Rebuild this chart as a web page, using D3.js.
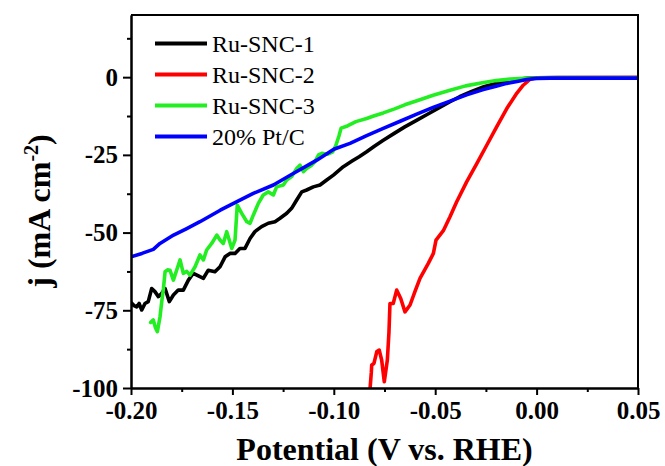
<!DOCTYPE html>
<html>
<head>
<meta charset="utf-8">
<script src="https://cdn.jsdelivr.net/npm/d3@7/dist/d3.min.js"></script>
<style>
  html, body { margin: 0; padding: 0; background: #fff; }
  svg { display: block; }
</style>
</head>
<body>
<svg id="chart" width="665" height="466"></svg>
<script>
// ---- data (potential V vs RHE, current density mA cm^-2) ----
const seriesNames = ["Ru-SNC-1", "Ru-SNC-2", "Ru-SNC-3", "20% Pt/C"];
const seriesColors = ["#000000", "#ff0000", "#22ee22", "#0000ff"];

const ruSNC1 = [[-0.2000,-72.5],[-0.1985,-73.5],[-0.1972,-73.9],[-0.1960,-72.8],[-0.1947,-74.9],[-0.1931,-72.8],[-0.1915,-72.2],[-0.1898,-68.0],[-0.1882,-69.0],[-0.1865,-70.6],[-0.1849,-69.6],[-0.1832,-68.0],[-0.1811,-72.2],[-0.1791,-70.1],[-0.1767,-68.5],[-0.1742,-68.5],[-0.1717,-65.3],[-0.1693,-63.1],[-0.1660,-64.2],[-0.1643,-64.7],[-0.1619,-62.1],[-0.1586,-62.6],[-0.1561,-61.0],[-0.1536,-57.8],[-0.1512,-56.7],[-0.1487,-56.7],[-0.1463,-55.1],[-0.1438,-55.1],[-0.1413,-51.9],[-0.1389,-49.7],[-0.1356,-48.1],[-0.1323,-47.0],[-0.1290,-46.5],[-0.1265,-45.4],[-0.1232,-43.8],[-0.1208,-42.2],[-0.1183,-39.5],[-0.1158,-36.9],[-0.1134,-36.3],[-0.1101,-35.3],[-0.1068,-34.7],[-0.1035,-33.1],[-0.1002,-31.5],[-0.0953,-28.8],[-0.0910,-27.0],[-0.0875,-25.6],[-0.0838,-24.0],[-0.0800,-22.2],[-0.0756,-20.3],[-0.0700,-18.0],[-0.0650,-16.0],[-0.0590,-13.8],[-0.0540,-12.0],[-0.0480,-9.8],[-0.0427,-7.9],[-0.0380,-6.3],[-0.0320,-4.6],[-0.0260,-3.1],[-0.0200,-2.0],[-0.0147,-1.3],[-0.0100,-0.8],[-0.0050,-0.4],[0.0000,-0.2],[0.0100,-0.1],[0.0500,-0.1]];

const ruSNC2 = [[-0.0821,-100],[-0.0815,-95],[-0.0813,-92.6],[-0.0802,-92.1],[-0.0788,-88.3],[-0.0776,-87.8],[-0.0764,-91],[-0.0751,-98],[-0.0736,-91],[-0.0728,-82],[-0.0723,-72.8],[-0.0707,-72.8],[-0.0690,-68.5],[-0.0670,-71.2],[-0.0649,-75.5],[-0.0624,-73.3],[-0.0600,-69],[-0.0575,-64.7],[-0.0534,-59.9],[-0.0509,-56.7],[-0.0496,-52.4],[-0.0460,-49.4],[-0.0427,-44.9],[-0.0394,-40.1],[-0.0345,-33.7],[-0.0295,-27.8],[-0.0246,-21.9],[-0.0197,-16],[-0.0147,-10.1],[-0.0098,-5.2],[-0.0066,-2.6],[-0.0033,-0.7],[0.0000,-0.2],[0.0500,-0.1]];

const ruSNC3 = [[-0.1903,-78.9],[-0.1890,-78.1],[-0.1880,-80.5],[-0.1870,-81.9],[-0.1857,-77.1],[-0.1848,-72.0],[-0.1840,-68.0],[-0.1832,-62.6],[-0.1820,-62.0],[-0.1808,-62.1],[-0.1791,-65.3],[-0.1775,-62.1],[-0.1758,-58.8],[-0.1742,-63.1],[-0.1725,-62.5],[-0.1709,-63.7],[-0.1684,-61.0],[-0.1660,-57.2],[-0.1643,-58.8],[-0.1627,-55.6],[-0.1602,-53.5],[-0.1577,-50.8],[-0.1561,-52.4],[-0.1545,-53.5],[-0.1528,-49.7],[-0.1503,-55.1],[-0.1487,-52.4],[-0.1476,-41.2],[-0.1454,-43.8],[-0.1429,-46.5],[-0.1413,-47.0],[-0.1397,-44.4],[-0.1372,-40.6],[-0.1348,-37.9],[-0.1323,-36.9],[-0.1298,-37.9],[-0.1282,-35.3],[-0.1249,-34.7],[-0.1232,-33.1],[-0.1208,-32.0],[-0.1183,-29.4],[-0.1167,-28.3],[-0.1150,-30.4],[-0.1134,-29.4],[-0.1109,-28.3],[-0.1093,-27.2],[-0.1075,-25.0],[-0.1059,-24.5],[-0.1030,-24.8],[-0.1005,-24.0],[-0.0990,-22.0],[-0.0975,-19.0],[-0.0964,-16.4],[-0.0933,-15.7],[-0.0891,-14.3],[-0.0838,-13.3],[-0.0800,-12.4],[-0.0756,-11.5],[-0.0700,-10.2],[-0.0650,-8.9],[-0.0590,-7.6],[-0.0510,-5.8],[-0.0427,-4.2],[-0.0350,-2.8],[-0.0260,-1.7],[-0.0200,-1.1],[-0.0130,-0.64],[-0.0060,-0.35],[0.0000,-0.25],[0.0500,-0.3]];

const ptC = [[-0.2000,-57.8],[-0.1946,-56.7],[-0.1890,-55.4],[-0.1857,-53.5],[-0.1790,-50.8],[-0.1725,-48.7],[-0.1660,-46.5],[-0.1560,-42.8],[-0.1480,-40.1],[-0.1397,-37.4],[-0.1298,-34.7],[-0.1200,-31.0],[-0.1084,-26.7],[-0.1000,-23.2],[-0.0920,-21.3],[-0.0838,-18.8],[-0.0756,-16.5],[-0.0670,-14.1],[-0.0591,-11.9],[-0.0510,-9.7],[-0.0427,-7.7],[-0.0345,-5.7],[-0.0263,-4.0],[-0.0200,-2.9],[-0.0147,-2.0],[-0.0090,-1.3],[-0.0049,-0.75],[0.0000,-0.4],[0.0066,-0.3],[0.0200,-0.3],[0.0500,-0.3]];

const seriesData = [ruSNC1, ruSNC2, ruSNC3, ptC];

const xMajorTicks = [-0.20, -0.15, -0.10, -0.05, 0.00, 0.05];
const xMinorTicks = [-0.175, -0.125, -0.075, -0.025, 0.025];
const yMajorTicks = [-100, -75, -50, -25, 0];
const yMinorTicks = [-87.5, -62.5, -37.5, -12.5, 12.5];

// ---- layout ----
const W = 665, H = 466;
const margin = {left: 131, right: 27, top: 15, bottom: 78};
const svg = d3.select("#chart");
const x = d3.scaleLinear().domain([-0.2, 0.05]).range([margin.left, W - margin.right]);
const y = d3.scaleLinear().domain([-100, 20]).range([H - margin.bottom, margin.top]);

const fontSerif = 'Tinos, "Liberation Serif", "Times New Roman", Times, "Nimbus Roman", "Nimbus Roman No9 L", FreeSerif, "Noto Serif", "DejaVu Serif", serif';
const fmtX = v => d3.format(".2f")(v).replace("\u2212", "-");
const fmtY = v => String(v).replace("\u2212", "-");

svg.append("defs").append("clipPath").attr("id", "clip")
  .append("rect")
  .attr("x", margin.left).attr("y", margin.top)
  .attr("width", W - margin.left - margin.right)
  .attr("height", H - margin.top - margin.bottom);

// curves
const line = d3.line().x(d => x(d[0])).y(d => y(d[1]));
const curves = svg.append("g").attr("clip-path", "url(#clip)");
seriesData.forEach((s, i) => {
  curves.append("path")
    .datum(s)
    .attr("fill", "none")
    .attr("stroke", seriesColors[i])
    .attr("stroke-width", 3.6)
    .attr("stroke-linejoin", "round")
    .attr("stroke-linecap", "round")
    .attr("d", line);
});

// axes
const xAxis = svg.append("g").attr("transform", `translate(0,${H - margin.bottom})`)
  .call(d3.axisBottom(x).tickValues(xMajorTicks).tickFormat(fmtX).tickSize(7).tickSizeOuter(0).tickPadding(6));
const xMinor = svg.append("g").attr("transform", `translate(0,${H - margin.bottom})`)
  .call(d3.axisBottom(x).tickValues(xMinorTicks).tickFormat("").tickSize(4).tickSizeOuter(0));
const yAxis = svg.append("g").attr("transform", `translate(${margin.left},0)`)
  .call(d3.axisLeft(y).tickValues(yMajorTicks).tickFormat(fmtY).tickSize(8).tickSizeOuter(0).tickPadding(5));
const yMinor = svg.append("g").attr("transform", `translate(${margin.left},0)`)
  .call(d3.axisLeft(y).tickValues(yMinorTicks).tickFormat("").tickSize(4).tickSizeOuter(0));

[xAxis, xMinor, yAxis, yMinor].forEach(g => {
  g.attr("font-family", null);
  g.selectAll(".domain").attr("stroke", "#000").attr("stroke-width", 2);
  g.selectAll(".tick line").attr("stroke", "#000").attr("stroke-width", 2);
  g.selectAll("text").style("font-family", fontSerif).style("font-weight", "bold")
    .style("font-size", "25px").attr("fill", "#000");
});

// frame top & right
svg.append("path")
  .attr("d", `M${margin.left},${margin.top}H${W - margin.right}V${H - margin.bottom}`)
  .attr("fill", "none").attr("stroke", "#000").attr("stroke-width", 2);

// axis titles
svg.append("text")
  .attr("x", (margin.left + W - margin.right) / 2)
  .attr("y", 460)
  .attr("text-anchor", "middle")
  .style("font-family", fontSerif).style("font-weight", "bold").style("font-size", "32px")
  .text("Potential (V vs. RHE)");

const yt = svg.append("text")
  .attr("transform", "translate(50,211) rotate(-90)")
  .attr("text-anchor", "middle")
  .style("font-family", fontSerif).style("font-weight", "bold").style("font-size", "32px");
yt.append("tspan").text("j (mA cm");
yt.append("tspan").style("font-size", "20px").attr("dy", -12).text("-2");
yt.append("tspan").attr("dy", 12).text(")");

// legend
const legend = svg.append("g");
seriesNames.forEach((name, i) => {
  const ly = 43.5 + i * 31;
  legend.append("line")
    .attr("x1", 155).attr("x2", 207).attr("y1", ly).attr("y2", ly)
    .attr("stroke", seriesColors[i]).attr("stroke-width", 4);
  legend.append("text")
    .attr("x", 212).attr("y", ly + 8)
    .style("font-family", fontSerif).style("font-size", "24px").attr("fill", "#000")
    .text(name);
});
</script>
</body>
</html>
